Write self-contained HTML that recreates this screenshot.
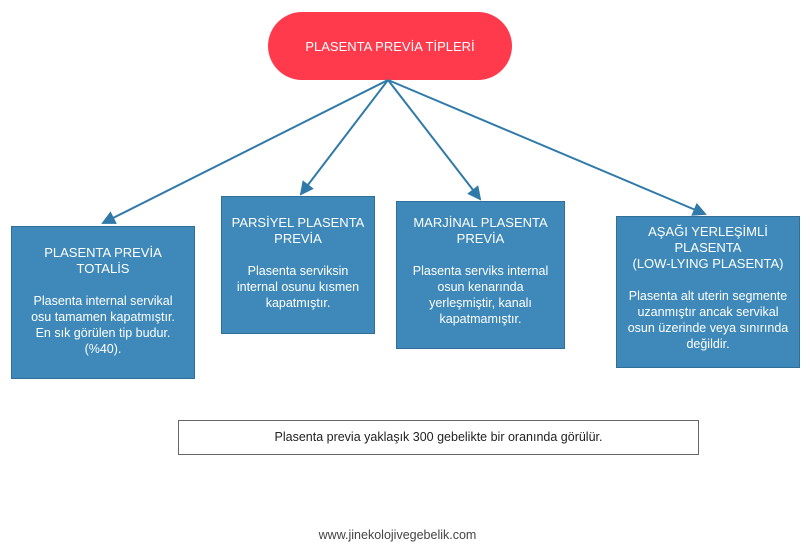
<!DOCTYPE html>
<html><head><style>
body{margin:0;width:810px;height:555px;background:#fff;position:relative;font-family:"Liberation Sans",sans-serif;overflow:hidden}
.b{position:absolute;background:#3e89b9;border:1px solid #2f6f98;color:#fff;text-align:center;font-size:12.5px;line-height:16px;box-sizing:border-box}
.b .t{font-size:13px;margin-bottom:16px}
</style></head><body>
<svg width="810" height="555" style="position:absolute;left:0;top:0">
<defs><marker id="a" markerWidth="14" markerHeight="14" refX="12" refY="7" orient="auto" markerUnits="userSpaceOnUse"><path d="M0,0 L14,7 L0,14 z" fill="#2f7aa8"/></marker></defs>
<rect x="268" y="12" width="244" height="68" rx="34" fill="#ff3a4c"/>
<g stroke="#2f7aa8" stroke-width="2" fill="none">
<line x1="388" y1="80" x2="103" y2="223" marker-end="url(#a)"/>
<line x1="388" y1="80" x2="301" y2="194" marker-end="url(#a)"/>
<line x1="388" y1="80" x2="480" y2="199" marker-end="url(#a)"/>
<line x1="388" y1="80" x2="705" y2="214" marker-end="url(#a)"/>
</g>
<text x="390" y="51" fill="#fff" font-size="13" text-anchor="middle" font-family="Liberation Sans">PLASENTA PREVİA TİPLERİ</text>
</svg>
<div class="b" style="left:11px;top:226px;width:184px;height:153px;padding-top:18px"><div class="t">PLASENTA PREVİA<br>TOTALİS</div>Plasenta internal servikal<br>osu tamamen kapatmıştır.<br>En sık görülen tip budur.<br>(%40).</div>
<div class="b" style="left:221px;top:196px;width:154px;height:138px;padding-top:18px"><div class="t">PARSİYEL PLASENTA<br>PREVİA</div>Plasenta serviksin<br>internal osunu kısmen<br>kapatmıştır.</div>
<div class="b" style="left:396px;top:201px;width:169px;height:148px;padding-top:13px"><div class="t">MARJİNAL PLASENTA<br>PREVİA</div>Plasenta serviks internal<br>osun kenarında<br>yerleşmiştir, kanalı<br>kapatmamıştır.</div>
<div class="b" style="left:616px;top:216px;width:184px;height:152px;padding-top:7px"><div class="t">AŞAĞI YERLEŞİMLİ<br>PLASENTA<br>(LOW-LYING PLASENTA)</div>Plasenta alt uterin segmente<br>uzanmıştır ancak servikal<br>osun üzerinde veya sınırında<br>değildir.</div>
<div style="position:absolute;left:178px;top:420px;width:521px;height:35px;border:1px solid #666;box-sizing:border-box;text-align:center;line-height:33px;font-size:12.5px;color:#222">Plasenta previa yaklaşık 300 gebelikte bir oranında görülür.</div>
<div style="position:absolute;left:0;width:795px;top:528px;text-align:center;font-size:12.5px;color:#444">www.jinekolojivegebelik.com</div>
</body></html>
